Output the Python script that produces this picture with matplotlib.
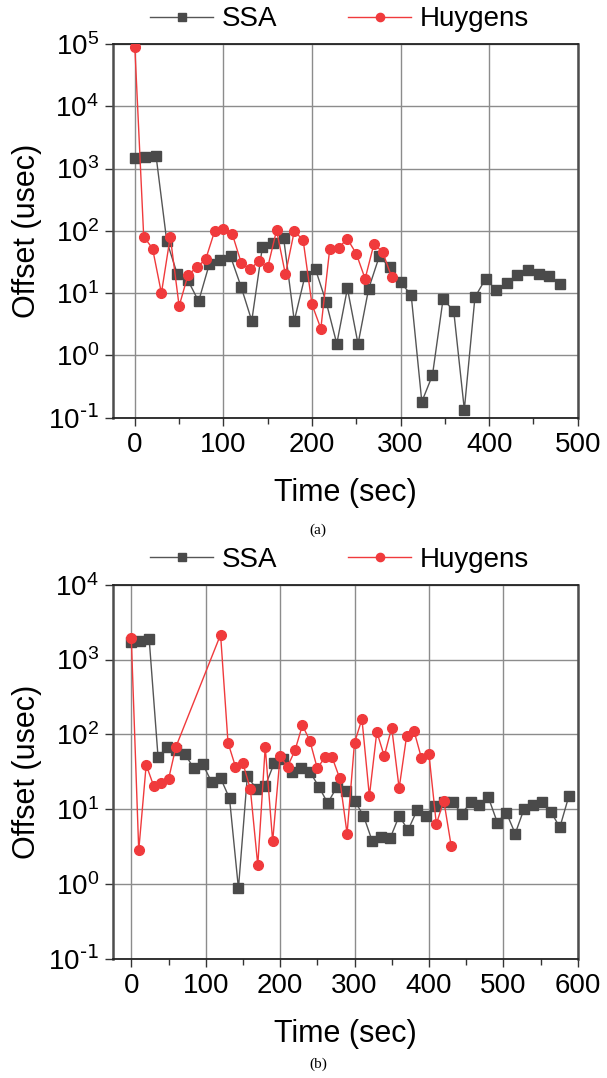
import matplotlib

matplotlib.use("Agg")
import matplotlib.pyplot as plt
from matplotlib.ticker import FixedLocator, MultipleLocator, NullLocator

plt.rcParams["font.family"] = ["Liberation Sans", "DejaVu Sans"]
plt.rcParams["mathtext.default"] = "regular"

# ---- (a) data ----
A_SSA_T = [0, 12, 24, 36, 48, 60, 72, 84, 96, 108, 120, 132, 144, 156, 168, 180,
           192, 204, 216, 228, 240, 252, 264, 276, 288, 300, 312, 324, 336, 348,
           360, 372, 384, 396, 408, 420, 432, 444, 456, 468, 480]
A_SSA_Y = [1480, 1520, 1580, 69, 20, 16, 7.4, 29, 34, 39, 12.6, 3.6, 55, 65, 76, 3.6,
           18.6, 24, 7.2, 1.54, 11.9, 1.53, 11.8, 39, 26, 15, 9.3, 0.18, 0.48, 8.0,
           5.2, 0.135, 8.6, 17, 11.2, 14.4, 19.5, 23.6, 20, 19, 13.8]
A_HUY_T = [0, 10, 20, 30, 40, 50, 60, 70, 80, 90, 100, 110, 120, 130, 140, 150,
           160, 170, 180, 190, 200, 210, 220, 230, 240, 250, 260, 270, 280, 290]
A_HUY_Y = [89000, 81, 52, 10, 81, 6.2, 19.5, 26, 35, 98, 107, 89, 31, 24, 33, 26,
           102, 20, 99, 71, 6.6, 2.7, 51, 54, 74, 43, 17, 62, 45, 18]

# ---- (b) data ----
B_SSA_T = [0, 12, 24, 36, 48, 60, 72, 84, 96, 108, 120, 132, 144, 156, 168, 180,
           192, 204, 216, 228, 240, 252, 264, 276, 288, 300, 312, 324, 336, 348,
           360, 372, 384, 396, 408, 420, 432, 444, 456, 468, 480, 492, 504, 516,
           528, 540, 552, 564, 576, 588]
B_SSA_Y = [1700, 1770, 1890, 49, 68, 61, 55, 35, 40, 23, 26, 13.9, 0.87, 28, 18.5,
           20.4, 41, 47, 31.6, 35, 31.6, 20, 12, 19.6, 17.7, 13, 8.2, 3.7, 4.3, 4.1,
           8.1, 5.25, 9.6, 8.1, 11.0, 12.6, 12.6, 8.6, 12.3, 11.5, 14.3, 6.6, 9.0,
           4.7, 10.1, 11.5, 12.6, 9.2, 5.7, 14.8]
B_HUY_T = [0, 10, 20, 30, 40, 50, 60, 120, 130, 140, 150, 160, 170, 180, 190, 200,
           210, 220, 230, 240, 250, 260, 270, 280, 290, 300, 310, 320, 330, 340,
           350, 360, 370, 380, 390, 400, 410, 420, 430]
B_HUY_Y = [1920, 2.8, 39, 20.5, 22, 25, 68, 2150, 77, 37, 41, 18.6, 1.78, 68, 3.7, 51,
           37, 61, 132, 82, 35, 49, 49, 26, 4.7, 77, 160, 14.9, 108, 51, 123, 19, 94,
           111, 48, 55, 6.3, 13, 3.2]

A_XTICKS = [0, 100, 200, 300, 400, 500]
B_XTICKS = [0, 100, 200, 300, 400, 500, 600]
A_YEXP = [-1, 0, 1, 2, 3, 4, 5]
B_YEXP = [-1, 0, 1, 2, 3, 4]

SSA_COLOR = "#4a4a4a"
SSA_LINE = "#555555"
HUY_COLOR = "#f03a3c"
W, H = 607, 1078
TICK_FS = 20
LABEL_FS = 22
LEGEND_FS = 20


def exp_label(e):
    # Origin-style labels use a plain hyphen for negative exponents
    return f"$10^{{\\text{{{e}}}}}$" if e < 0 else f"$10^{{{e}}}$"


def style_axes(ax, xlim, xticks, yexp):
    ax.set_yscale("log")
    ax.set_xlim(*xlim)
    ax.set_ylim(10.0 ** yexp[0], 10.0 ** yexp[-1])
    ax.xaxis.set_major_locator(FixedLocator(xticks))
    ax.xaxis.set_minor_locator(MultipleLocator(50))
    ax.yaxis.set_major_locator(FixedLocator([10.0 ** e for e in yexp]))
    ax.yaxis.set_minor_locator(NullLocator())
    ax.set_yticklabels([exp_label(e) for e in yexp])
    ax.tick_params(axis="both", which="major", direction="out", length=6, width=1,
                   labelsize=TICK_FS, pad=4, color="#333333")
    ax.tick_params(axis="x", which="minor", direction="out", length=4, width=1,
                   color="#333333")
    ax.grid(True, which="major", color="#8c8c8c", lw=1.0)
    ax.set_axisbelow(True)
    for side in ("left", "right"):
        ax.spines[side].set_color("#4d4d4d")
        ax.spines[side].set_linewidth(1.8)
    for side in ("top", "bottom"):
        ax.spines[side].set_color("#222222")
        ax.spines[side].set_linewidth(1.3)
    ax.set_xlabel("Time (sec)", fontsize=LABEL_FS)
    ax.set_ylabel("Offset (usec)", fontsize=LABEL_FS)
    ax.xaxis.set_label_coords(0.5, -0.161)
    ax.yaxis.set_label_coords(-0.152, 0.5)


def draw_panel(ax, ssa_t, ssa_y, huy_t, huy_y):
    ax.plot(ssa_t, ssa_y, color=SSA_LINE, lw=1.0, marker="s", ms=6.5,
            mfc=SSA_COLOR, mec=SSA_COLOR, label="SSA", zorder=3)
    ax.plot(huy_t, huy_y, color=HUY_COLOR, lw=1.0, marker="o", ms=7,
            mfc=HUY_COLOR, mec=HUY_COLOR, label="Huygens", zorder=4)


def add_legend(fig, ax, y_px):
    handles, labels = ax.get_legend_handles_labels()
    fig.legend(handles, labels, loc="center left", bbox_to_anchor=(150 / W, 1 - y_px / H),
               ncol=2, frameon=False, fontsize=LEGEND_FS, handlelength=2.27,
               handletextpad=0.32, columnspacing=2.55, markerscale=0.85,
               borderpad=0, borderaxespad=0)


def main() -> None:
    fig = plt.figure(figsize=(W / 100, H / 100), dpi=100)
    left, width = 112.7 / W, 465 / W
    ax_a = fig.add_axes([left, 1 - 417.7 / H, width, 373.7 / H])
    ax_b = fig.add_axes([left, 1 - 958.7 / H, width, 374 / H])

    draw_panel(ax_a, A_SSA_T, A_SSA_Y, A_HUY_T, A_HUY_Y)
    style_axes(ax_a, (-25, 500), A_XTICKS, A_YEXP)
    draw_panel(ax_b, B_SSA_T, B_SSA_Y, B_HUY_T, B_HUY_Y)
    style_axes(ax_b, (-25, 600), B_XTICKS, B_YEXP)

    add_legend(fig, ax_a, 19.3)
    add_legend(fig, ax_b, 560)

    fig.text(318 / W, 1 - 530 / H, "(a)", family="Liberation Serif", fontsize=11,
             ha="center", va="center")
    fig.text(318 / W, 1 - 1064 / H, "(b)", family="Liberation Serif", fontsize=11,
             ha="center", va="center")
    fig.savefig("out.png", dpi=100)
    plt.close(fig)


if __name__ == "__main__":
    main()
